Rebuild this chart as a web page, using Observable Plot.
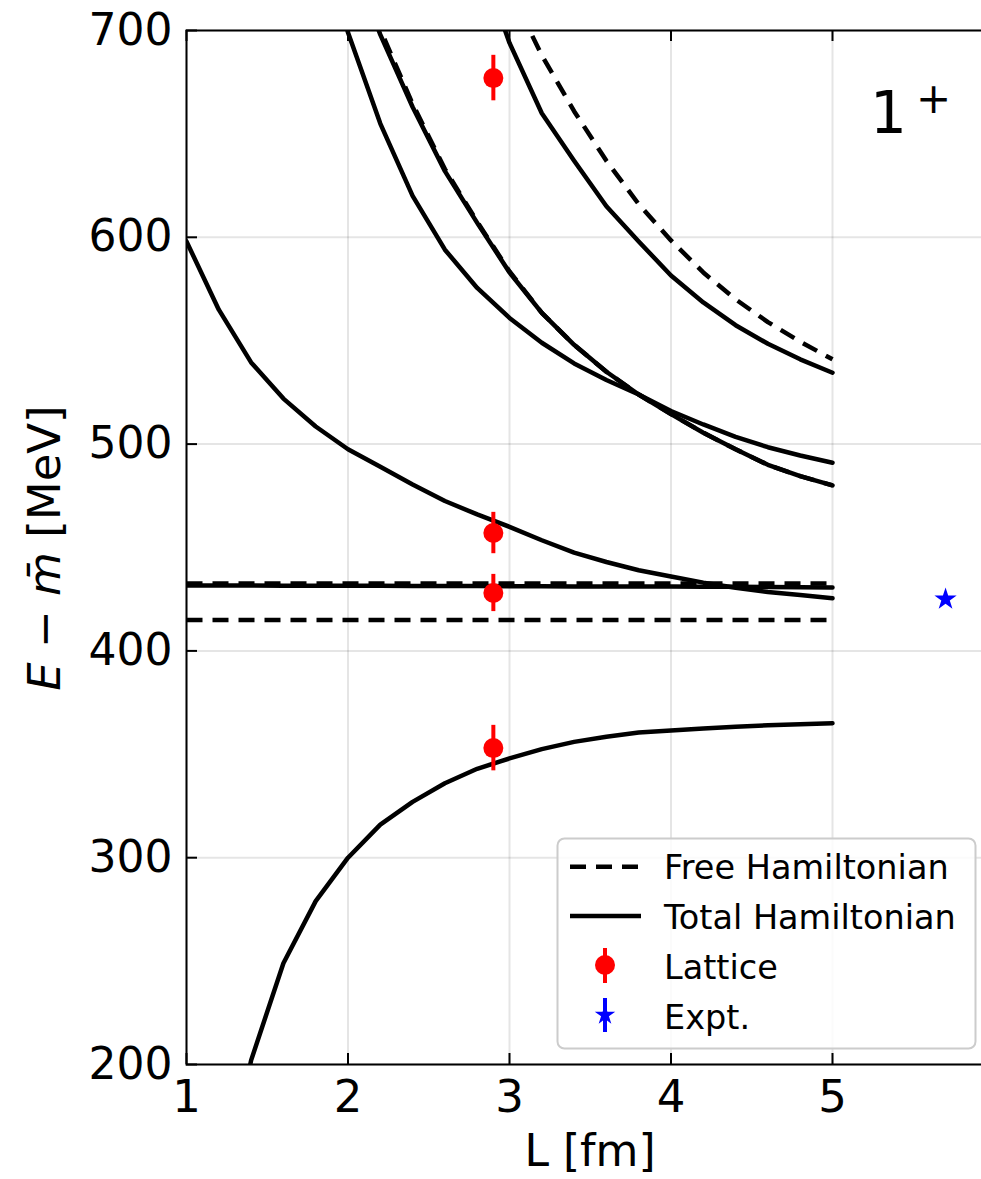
<!DOCTYPE html>
<html>
<head>
<meta charset="utf-8">
<script src="https://cdn.jsdelivr.net/npm/d3@7"></script>
<script src="https://cdn.jsdelivr.net/npm/@observablehq/plot@0.6"></script>
<style>
html, body { margin: 0; padding: 0; background: #fff; overflow: hidden; }
#chart svg { display: block; overflow: hidden; }
</style>
</head>
<body>
<div id="chart"></div>
<script>
// ---------- data ----------
const L = [1.0, 1.2, 1.4, 1.6, 1.8, 2.0, 2.2, 2.4, 2.6, 2.8, 3.0, 3.2, 3.4, 3.6, 3.8, 4.0, 4.2, 4.4, 4.6, 4.8, 5.0];

// Total Hamiltonian levels (solid)
const total1 = [null, 125, 202, 249, 279, 300, 316, 327, 336, 343, 348, 352.5, 356, 358.5, 360.5, 361.5, 362.5, 363.3, 364, 364.5, 365];
const total2 = [431.6, 431.6, 431.6, 431.5, 431.5, 431.5, 431.5, 431.4, 431.4, 431.4, 431.3, 431.3, 431.2, 431.2, 431.1, 431.1, 431.0, 431.0, 430.9, 430.8, 430.7];
const total3 = [598, 565, 539.5, 522, 508.5, 497.5, 489, 480.5, 472.5, 466, 460, 453.5, 447.5, 443, 439, 436, 433, 430.5, 428.5, 427, 425.5];
const total4 = [null, null, null, null, 760, 699, 655, 620, 594, 575.5, 561, 549, 539, 531, 524, 516, 509.5, 503.5, 498.5, 494.5, 491];
const total5 = [null, null, null, null, null, 740, 698, 663, 632, 607, 583, 563.5, 548, 535, 524, 514.5, 505.5, 497.5, 490, 484.5, 480];
const total6 = [null, null, null, null, null, null, null, null, null, 738, 694, 660, 637, 615, 598, 581.5, 568.5, 557.5, 548.5, 541, 534.5];

// Free Hamiltonian levels (dashed)
const free1 = [415, 415, 415, 415, 415, 415, 415, 415, 415, 415, 415, 415, 415, 415, 415, 415, 415, 415, 415, 415, 415];
const free2 = [432.6, 432.6, 432.6, 432.6, 432.6, 432.6, 432.6, 432.6, 432.6, 432.6, 432.6, 432.6, 432.6, 432.6, 432.6, 432.6, 432.6, 432.6, 432.6, 432.6, 432.6];
const free3 = [null, null, null, null, null, 743, 700.5, 664.5, 633, 607.5, 583.5, 563.5, 548, 535, 524, 514.5, 505.5, 497.5, 490, 484.5, 480];
const free4 = [null, null, null, null, null, null, null, null, null, null, 720, 688, 661, 637, 616, 598.5, 583, 570, 559, 549.5, 541];

// Lattice points
const latticeL = [2.9, 2.9, 2.9, 2.9];
const latticeE = [353, 428, 457, 677];
const latticeErr = [11, 9, 10, 11];

// Experiment
const exptL = [5.7];
const exptE = [425];
const exptErr = [0.5];

const xTicks = [1, 2, 3, 4, 5];
const yTicks = [200, 300, 400, 500, 600, 700];

// ---------- layout ----------
const W = 981, H = 1179;
const mL = 186, mT = 30, mB = 115, mR = -12.5;
const plotH = H - mT - mB;
const plotW = W - mL - mR;

const series = (vals) => L.map((l, i) => ({L: l, E: vals[i]}));
const lattice = latticeL.map((l, i) => ({L: l, E: latticeE[i], err: latticeErr[i]}));
const expt = exptL.map((l, i) => ({L: l, E: exptE[i], err: exptErr[i]}));

const lineStyle = {x: "L", y: "E", stroke: "black", strokeWidth: 4.5, clip: true};

const chart = Plot.plot({
  width: W, height: H,
  marginLeft: mL, marginRight: mR, marginTop: mT, marginBottom: mB,
  style: {fontFamily: "DejaVu Sans", background: "white", color: "black"},
  x: {domain: [1, 6]},
  y: {domain: [200, 700]},
  marks: [
    Plot.gridX(xTicks, {stroke: "#000", strokeOpacity: 0.1, strokeWidth: 2}),
    Plot.gridY(yTicks, {stroke: "#000", strokeOpacity: 0.1, strokeWidth: 2}),
    ...[free1, free2, free3, free4].map(v =>
      Plot.line(series(v), {...lineStyle, strokeDasharray: "16,10", strokeLinecap: "butt"})),
    ...[total1, total2, total3, total4, total5, total6].map(v =>
      Plot.line(series(v), {...lineStyle})),
    Plot.ruleX(lattice, {x: "L", y1: d => d.E - d.err, y2: d => d.E + d.err, stroke: "red", strokeWidth: 4}),
    Plot.dot(lattice, {x: "L", y: "E", r: 10, fill: "red"}),
    Plot.ruleX(expt, {x: "L", y1: d => d.E - d.err, y2: d => d.E + d.err, stroke: "blue", strokeWidth: 4}),
    Plot.dot(expt, {x: "L", y: "E", r: 7, symbol: "star", fill: "blue"}),
    Plot.tickX(xTicks, {x: d => d, insetTop: plotH - 11, stroke: "black", strokeWidth: 2}),
    Plot.tickX(xTicks, {x: d => d, insetBottom: plotH - 11, stroke: "black", strokeWidth: 2}),
    Plot.tickY(yTicks, {y: d => d, insetRight: plotW - 11, stroke: "black", strokeWidth: 2}),
    Plot.frame({stroke: "black", strokeWidth: 2}),
    Plot.axisX(xTicks, {tickSize: 0, tickPadding: 16, fontSize: 45, label: null, tickFormat: d3.format("d")}),
    Plot.axisY(yTicks, {tickSize: 0, tickPadding: 14, fontSize: 44, label: null, tickFormat: d3.format("d")})
  ]
});

document.getElementById("chart").appendChild(chart);

// ---------- labels, annotation, legend ----------
const svg = d3.select(chart);
const font = "DejaVu Sans";

// y label
const yl = svg.append("text")
  .attr("transform", "translate(60,548) rotate(-90)")
  .attr("text-anchor", "middle")
  .style("font-family", font).style("font-size", "45px").attr("fill", "black");
yl.append("tspan").style("font-style", "italic").text("E");
yl.append("tspan").text(" \u2212 ");
yl.append("tspan").style("font-style", "italic").text("m\u0304");
yl.append("tspan").text(" [MeV]");

// x label
svg.append("text")
  .attr("x", 590).attr("y", 1166)
  .attr("text-anchor", "middle")
  .style("font-family", font).style("font-size", "44px").attr("fill", "black")
  .text("L [fm]");

// 1+ annotation
svg.append("text").attr("x", 870).attr("y", 133).attr("text-anchor", "start")
  .style("font-family", font).style("font-size", "58px").attr("fill", "black").text("1");
svg.append("text").attr("x", 916).attr("y", 113).attr("text-anchor", "start")
  .style("font-family", font).style("font-size", "42px").attr("fill", "black").text("+");

// legend
const lg = svg.append("g");
lg.append("rect").attr("x", 557.5).attr("y", 838.5).attr("width", 418).attr("height", 210)
  .attr("rx", 7).attr("fill", "white").attr("fill-opacity", 0.85)
  .attr("stroke", "#cccccc").attr("stroke-width", 2);
lg.append("line").attr("x1", 570).attr("x2", 640).attr("y1", 866.7).attr("y2", 866.7)
  .attr("stroke", "black").attr("stroke-width", 4.5).attr("stroke-dasharray", "16,10");
lg.append("line").attr("x1", 570).attr("x2", 641).attr("y1", 916).attr("y2", 916)
  .attr("stroke", "black").attr("stroke-width", 4.5);
lg.append("line").attr("x1", 605).attr("x2", 605).attr("y1", 948).attr("y2", 983)
  .attr("stroke", "red").attr("stroke-width", 4);
lg.append("circle").attr("cx", 605).attr("cy", 965).attr("r", 10).attr("fill", "red");
lg.append("line").attr("x1", 605).attr("x2", 605).attr("y1", 998).attr("y2", 1032)
  .attr("stroke", "blue").attr("stroke-width", 4);
lg.append("path").attr("transform", "translate(605,1015)")
  .attr("d", d3.symbol(d3.symbolStar, 130)()).attr("fill", "blue");
const labels = ["Free Hamiltonian", "Total Hamiltonian", "Lattice", "Expt."];
labels.forEach((t, i) => {
  lg.append("text").attr("x", 664).attr("y", 878.5 + 50 * i).attr("text-anchor", "start")
    .style("font-family", font).style("font-size", "33.5px").attr("fill", "black").text(t);
});
</script>
</body>
</html>
